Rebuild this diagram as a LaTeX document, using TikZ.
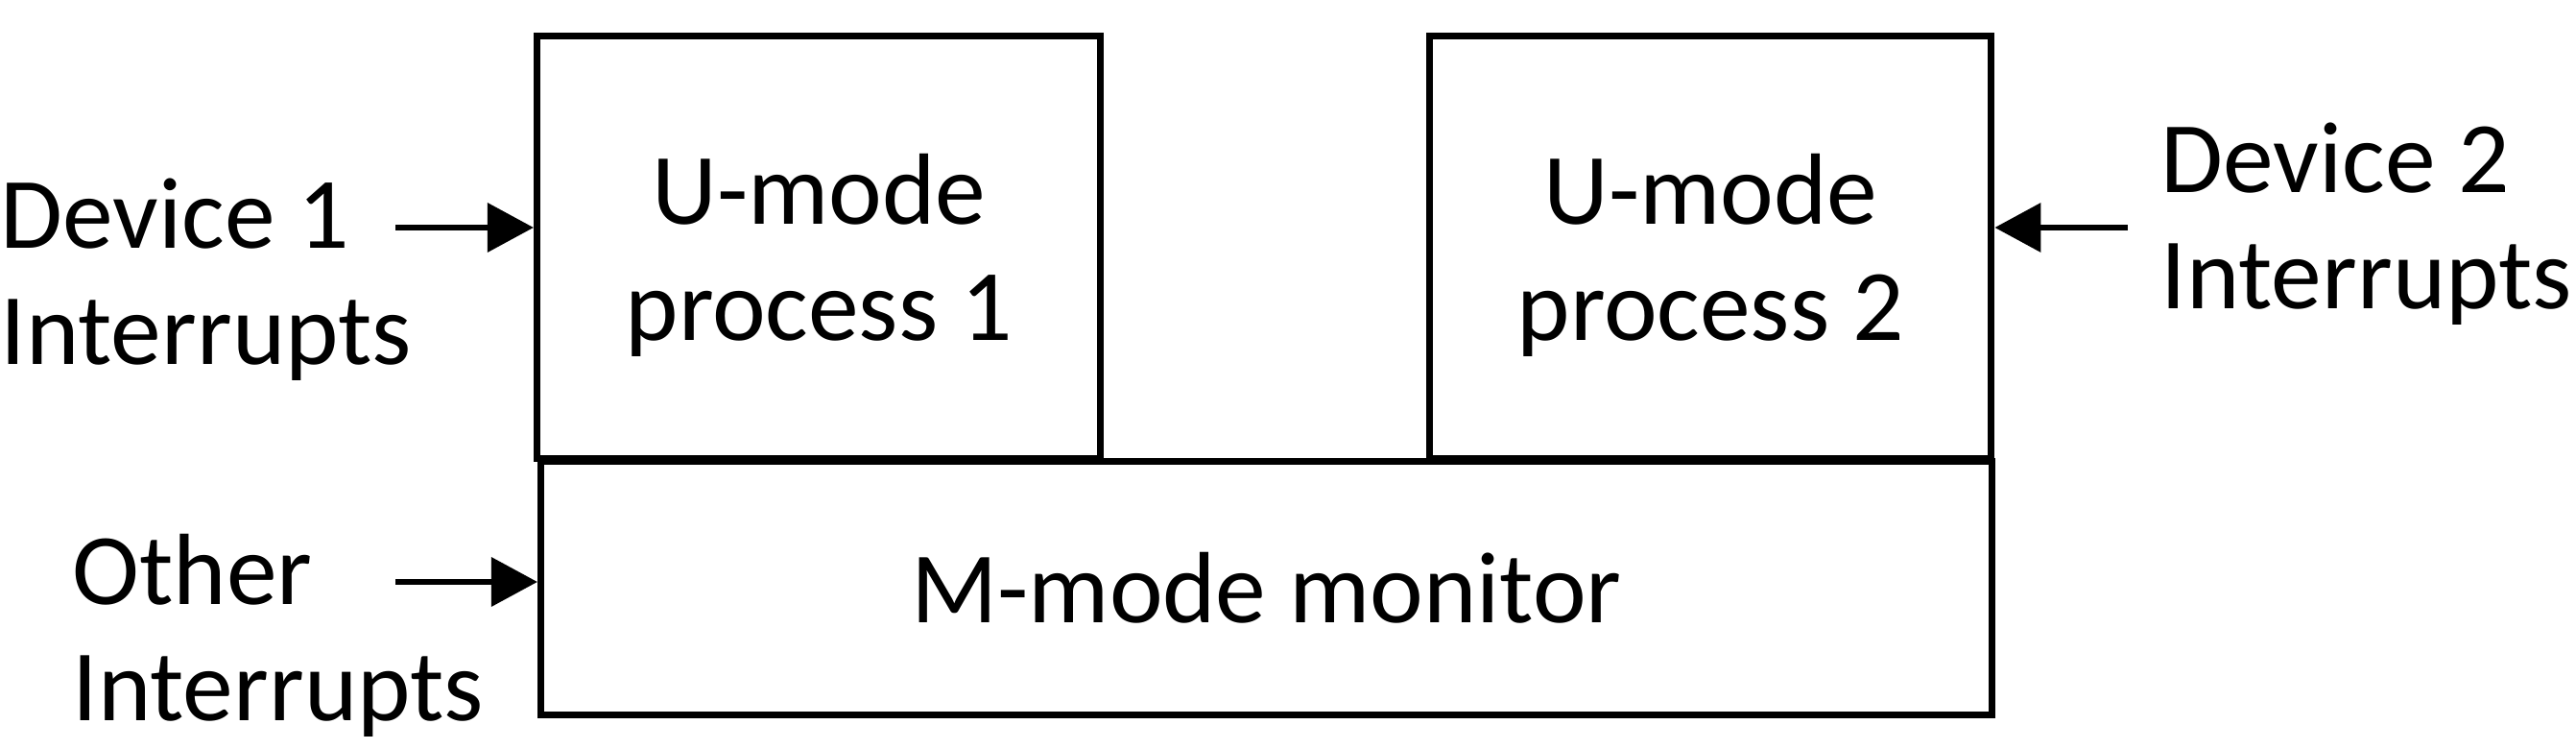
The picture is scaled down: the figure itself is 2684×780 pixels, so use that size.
\documentclass[tikz,border=0pt]{standalone}
\usepackage{fontspec}
\setmainfont{Carlito}
\usetikzlibrary{arrows.meta}

\tikzset{
  modebox/.style={draw, line width=2pt, inner sep=0pt, align=center},
  lbl/.style={inner sep=0pt, align=left, anchor=west},
  irq/.style={line width=1.9pt, -{Triangle[length=0.48cm,width=0.50cm]}}
}

\begin{document}
\begin{tikzpicture}[x=0.01cm,y=-0.01cm, font=\fontsize{30}{34.5}\selectfont]
  \useasboundingbox (0,0) rectangle (2684,780);
  % processes and monitor
  \node[modebox, text depth=0pt, anchor=north west, minimum width=5.87cm, minimum height=4.40cm] (proc1) at (556,34) {U-mode\\process 1};
  \node[modebox, text depth=0pt, anchor=north west, minimum width=5.85cm, minimum height=4.40cm] (proc2) at (1486,34) {U-mode\\process 2};
  \node[modebox, anchor=north west, minimum width=15.11cm, minimum height=2.64cm] (monitor) at (560,477) {M-mode monitor};
  % interrupt sources
  \node[lbl] (dev1) at (0,291) {Device 1\\Interrupts};
  \node[lbl] (dev2) at (2251,233) {Device 2\\Interrupts};
  \node[lbl] (other) at (75,662) {Other\\Interrupts};
  \coordinate (t1) at (412,237);
  \coordinate (t2) at (2217,237);
  \coordinate (t3) at (412,606);
  \draw[irq] (t1) -- (t1 -| proc1.west);
  \draw[irq] (t2) -- (t2 -| proc2.east);
  \draw[irq] (t3) -- (t3 -| monitor.west);
\end{tikzpicture}
\end{document}
